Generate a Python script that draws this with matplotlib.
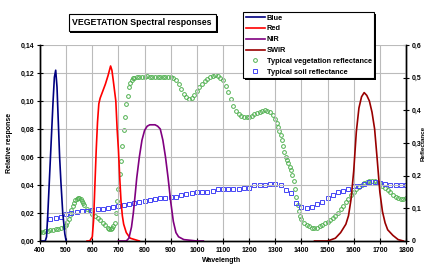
import matplotlib
matplotlib.use("Agg")
import matplotlib.pyplot as plt
import matplotlib.patheffects as pe

# sensor relative responses (left axis)
blue_wl = [400, 420, 425, 430, 440, 450, 455, 460, 465, 470, 475, 480, 487, 495, 500]
blue_val = [0, 0, 0.003, 0.02, 0.06, 0.1, 0.117, 0.122, 0.11, 0.085, 0.06, 0.042, 0.02, 0.005, 0]

red_wl = [580, 590, 600, 605, 610, 615, 620, 625, 630, 640, 650, 660, 670, 675, 680, 690,
          695, 700, 705, 710, 715, 720, 730, 745, 780]
red_val = [0, 0, 0.003, 0.015, 0.04, 0.065, 0.085, 0.098, 0.102, 0.107, 0.112, 0.118, 0.125,
           0.122, 0.115, 0.1, 0.08, 0.065, 0.045, 0.028, 0.018, 0.012, 0.006, 0.002, 0]

nir_wl = [700, 730, 740, 750, 757, 765, 770, 780, 790, 800, 810, 820, 830, 840, 850, 860,
          870, 880, 890, 900, 910, 920, 930, 950, 1000, 1025]
nir_val = [0, 0, 0.002, 0.01, 0.02, 0.035, 0.045, 0.06, 0.072, 0.079, 0.082, 0.083, 0.083,
           0.083, 0.082, 0.08, 0.072, 0.06, 0.045, 0.028, 0.014, 0.006, 0.003, 0.001, 0, 0]

swir_wl = [1450, 1500, 1530, 1550, 1570, 1580, 1590, 1600, 1610, 1620, 1630, 1640, 1650,
           1660, 1670, 1680, 1690, 1700, 1710, 1720, 1730, 1750, 1770, 1790]
swir_val = [0, 0, 0.002, 0.006, 0.012, 0.018, 0.03, 0.05, 0.078, 0.095, 0.103, 0.106, 0.104,
            0.1, 0.092, 0.08, 0.058, 0.035, 0.021, 0.013, 0.008, 0.004, 0.001, 0]

# reflectances (right axis)
veg_wl = [400, 410, 420, 430, 440, 450, 460, 470, 480, 490, 495, 500, 505, 510, 515, 520,
          525, 530, 535, 540, 545, 550, 555, 560, 565, 570, 580, 590, 600, 610, 620, 630,
          640, 650, 660, 665, 670, 675, 680, 685, 690, 695, 700, 705, 710, 715, 720, 725,
          730, 735, 740, 745, 750, 755, 760, 770, 780, 790, 800, 810, 820, 830, 840, 850,
          860, 870, 880, 890, 900, 910, 920, 930, 940, 950, 960, 970, 980, 990, 1000, 1010,
          1020, 1030, 1040, 1050, 1060, 1070, 1080, 1090, 1100, 1110, 1120, 1130, 1140,
          1150, 1160, 1170, 1180, 1190, 1200, 1210, 1220, 1230, 1240, 1250, 1260, 1270,
          1280, 1290, 1300, 1305, 1310, 1315, 1320, 1325, 1330, 1335, 1340, 1345, 1350,
          1355, 1360, 1365, 1370, 1375, 1380, 1385, 1390, 1395, 1400, 1410, 1420, 1430,
          1440, 1450, 1460, 1470, 1480, 1490, 1500, 1510, 1520, 1530, 1540, 1550, 1560,
          1570, 1580, 1590, 1600, 1610, 1620, 1630, 1640, 1650, 1660, 1670, 1680, 1690,
          1700, 1710, 1720, 1730, 1740, 1750, 1760, 1770, 1780, 1790, 1800]
veg_val = [0.027, 0.028, 0.030, 0.032, 0.034, 0.035, 0.037, 0.038, 0.040, 0.042, 0.045,
           0.050, 0.058, 0.068, 0.080, 0.095, 0.107, 0.117, 0.125, 0.129, 0.131, 0.131,
           0.128, 0.122, 0.116, 0.110, 0.099, 0.091, 0.084, 0.077, 0.070, 0.063, 0.056,
           0.048, 0.041, 0.038, 0.037, 0.039, 0.046, 0.056, 0.085, 0.123, 0.160, 0.205,
           0.246, 0.292, 0.340, 0.380, 0.420, 0.445, 0.470, 0.483, 0.492, 0.498, 0.500,
           0.502, 0.503, 0.503, 0.503, 0.504, 0.503, 0.503, 0.503, 0.503, 0.503, 0.503,
           0.502, 0.502, 0.501, 0.498, 0.492, 0.480, 0.465, 0.450, 0.440, 0.436, 0.438,
           0.447, 0.458, 0.470, 0.480, 0.490, 0.497, 0.502, 0.506, 0.508, 0.506, 0.500,
           0.492, 0.476, 0.456, 0.436, 0.414, 0.398, 0.388, 0.383, 0.380, 0.379, 0.381,
           0.384, 0.388, 0.392, 0.396, 0.399, 0.401, 0.399, 0.394, 0.386, 0.372, 0.362,
           0.350, 0.337, 0.325, 0.308, 0.290, 0.272, 0.258, 0.248, 0.238, 0.228, 0.218,
           0.202, 0.185, 0.160, 0.135, 0.110, 0.092, 0.078, 0.066, 0.056, 0.050, 0.045,
           0.041, 0.039, 0.041, 0.045, 0.050, 0.054, 0.059, 0.064, 0.070, 0.076, 0.086,
           0.097, 0.108, 0.118, 0.129, 0.140, 0.151, 0.160, 0.166, 0.172, 0.177, 0.182,
           0.184, 0.185, 0.183, 0.179, 0.175, 0.169, 0.163, 0.156, 0.149, 0.142, 0.136,
           0.131, 0.129, 0.129, 0.131]

soil_wl = [440, 460, 480, 500, 520, 540, 560, 580, 600, 620, 640, 660, 680, 700, 720, 740,
           760, 780, 800, 820, 840, 860, 880, 900, 920, 940, 960, 980, 1000, 1020, 1040,
           1060, 1080, 1100, 1120, 1140, 1160, 1180, 1200, 1220, 1240, 1260, 1280, 1300,
           1320, 1340, 1360, 1380, 1400, 1420, 1440, 1460, 1480, 1500, 1520, 1540, 1560,
           1580, 1600, 1620, 1640, 1660, 1680, 1700, 1720, 1740, 1760, 1780, 1800]
soil_val = [0.068, 0.071, 0.073, 0.082, 0.085, 0.088, 0.091, 0.093, 0.096, 0.097, 0.099,
            0.101, 0.103, 0.107, 0.111, 0.114, 0.116, 0.119, 0.122, 0.125, 0.128, 0.131,
            0.133, 0.135, 0.136, 0.142, 0.144, 0.146, 0.150, 0.150, 0.151, 0.154, 0.158,
            0.160, 0.160, 0.160, 0.160, 0.161, 0.163, 0.170, 0.170, 0.170, 0.173, 0.173,
            0.170, 0.156, 0.146, 0.117, 0.105, 0.102, 0.105, 0.112, 0.119, 0.131, 0.141,
            0.149, 0.154, 0.159, 0.168, 0.168, 0.174, 0.181, 0.181, 0.179, 0.174, 0.171,
            0.171, 0.171, 0.171]

x_ticks = list(range(400, 1900, 100))
left_ticks = [0, 0.02, 0.04, 0.06, 0.08, 0.10, 0.12, 0.14]
left_labels = ["0,00", "0,02", "0,04", "0,06", "0,08", "0,10", "0,12", "0,14"]
right_ticks = [0, 0.1, 0.2, 0.3, 0.4, 0.5, 0.6]
right_labels = ["0", "0,1", "0,2", "0,3", "0,4", "0,5", "0,6"]

plt.rcParams["font.family"] = ["Liberation Sans", "DejaVu Sans"]
plt.rcParams["font.weight"] = "bold"

fig = plt.figure(figsize=(4.27, 2.65), dpi=100)
ax = fig.add_axes([0.0937, 0.0906, 0.8571, 0.7396])
ax2 = ax.twinx()

# keep the response curves above the reflectance markers
ax.set_zorder(ax2.get_zorder() + 1)
ax.patch.set_visible(False)

lw = 1.2
l1, = ax.plot(blue_wl, blue_val, color="#000080", lw=lw, label="Blue")
l2, = ax.plot(red_wl, red_val, color="#ff0000", lw=lw, label="Red")
l3, = ax.plot(nir_wl, nir_val, color="#800080", lw=lw, label="NIR")
l4, = ax.plot(swir_wl, swir_val, color="#990000", lw=lw, label="SWIR")

m1, = ax2.plot(veg_wl, veg_val, ls="none", marker="o", ms=2.7, mfc="none",
               mec="#50b050", mew=0.7, label="Typical vegetation reflectance")
m2, = ax2.plot(soil_wl, soil_val, ls="none", marker="s", ms=2.5, mfc="none",
               mec="#4545f5", mew=0.7, label="Typical soil reflectance")

ax.set_xlim(400, 1800)
ax.set_ylim(0, 0.14)
ax2.set_ylim(0, 0.6)

ax.set_xticks(x_ticks)
ax.set_yticks(left_ticks)
ax.set_yticklabels(left_labels)
ax2.set_yticks(right_ticks)
ax2.set_yticklabels(right_labels)

ax.grid(True, color="#bbbbbb", lw=0.8)
ax.tick_params(axis="both", direction="inout", length=4, width=0.8, labelsize=5, pad=2)
ax2.tick_params(axis="y", direction="inout", length=4, width=0.8, labelsize=5, pad=2)

for a in (ax, ax2):
    a.spines["top"].set_visible(False)
    for s in ("left", "right", "bottom"):
        a.spines[s].set_linewidth(1.0)

ax.set_ylabel("Relative response", fontsize=5, fontweight="bold")
ax.yaxis.set_label_coords(-0.074, 0.5)
ax.set_xlabel("Wavelength", fontsize=5, fontweight="bold")
ax.xaxis.set_label_coords(0.497, -0.082)
ax2.set_ylabel("Reflectance", fontsize=4.5, fontweight="bold")
ax2.yaxis.set_label_coords(1.041, 0.5)

t = fig.text(0.333, 0.915, "VEGETATION Spectral responses", fontsize=6.3,
             fontweight="bold", ha="center", va="center",
             bbox=dict(boxstyle="square,pad=0.45", fc="white", ec="black", lw=0.8))
t.get_bbox_patch().set_path_effects([
    pe.SimplePatchShadow(offset=(1.3, -1.3), shadow_rgbFace="black", alpha=1),
    pe.Normal()])

leg = fig.legend(handles=[l1, l2, l3, l4, m1, m2], loc="upper left",
                 bbox_to_anchor=(0.569, 0.955), fontsize=5.3, numpoints=1,
                 handlelength=2.6, handletextpad=0.25, borderpad=0.35,
                 labelspacing=0.5, borderaxespad=0, fancybox=False,
                 framealpha=1, edgecolor="black")
leg.get_frame().set_linewidth(0.8)
leg.get_frame().set_path_effects([
    pe.SimplePatchShadow(offset=(1.3, -1.3), shadow_rgbFace="black", alpha=1),
    pe.Normal()])

fig.savefig("out.png", dpi=100)
